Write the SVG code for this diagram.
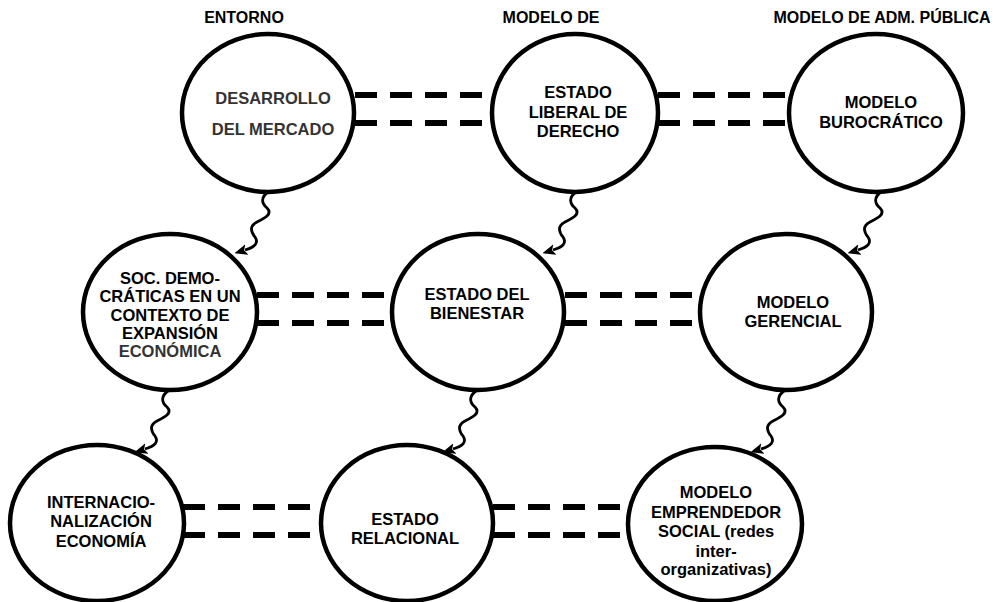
<svg xmlns="http://www.w3.org/2000/svg" width="1001" height="602" viewBox="0 0 1001 602">
<style>
.n{fill:#fff;stroke:#000;stroke-width:4.5}
.t{font-family:"Liberation Sans",Arial,sans-serif;font-weight:bold;font-size:16.5px;text-anchor:middle;fill:#000}
.g{fill:#333}
.h{font-family:"Liberation Sans",Arial,sans-serif;font-weight:bold;font-size:16px;text-anchor:middle;fill:#000}
.d{stroke:#000;stroke-width:6;stroke-dasharray:22 13;fill:none}
.w{stroke:#000;stroke-width:2.8;fill:none;marker-end:url(#ah)}
</style>
<defs>
<marker id="ah" viewBox="0 0 13 11" refX="2" refY="5.5" markerWidth="13" markerHeight="11" markerUnits="userSpaceOnUse" orient="auto">
<path d="M0,0 L13,5.5 L0,11 L3,5.5 z" fill="#000"/>
</marker>
<path id="wave" d="M0,0 c -7,5 -7,11 -1,16 c 6,6 -2,10 -10,14 c -8,4 -6,10 -2,15 c 4,6 0,10 -10,13"/>
</defs>
<g id="headers">
<text class="h" x="244" y="23">ENTORNO</text>
<text class="h" x="551" y="23">MODELO DE</text>
<text class="h" x="882" y="23">MODELO DE ADM. PÚBLICA</text>
</g>
<g id="connectors">
<line class="d" x1="355" y1="95" x2="493" y2="95"/>
<line class="d" x1="355" y1="123" x2="493" y2="123"/>
<line class="d" x1="658" y1="95" x2="788" y2="95"/>
<line class="d" x1="658" y1="123" x2="788" y2="123"/>
<line class="d" x1="257" y1="295" x2="392" y2="295"/>
<line class="d" x1="257" y1="323" x2="392" y2="323"/>
<line class="d" x1="565" y1="295" x2="700" y2="295"/>
<line class="d" x1="565" y1="323" x2="700" y2="323"/>
<line class="d" x1="183" y1="507" x2="320" y2="507"/>
<line class="d" x1="183" y1="535" x2="320" y2="535"/>
<line class="d" x1="493" y1="507" x2="628" y2="507"/>
<line class="d" x1="493" y1="535" x2="628" y2="535"/>
<use href="#wave" class="w" x="268" y="192"/>
<use href="#wave" class="w" x="576" y="192"/>
<use href="#wave" class="w" x="881" y="192"/>
<use href="#wave" class="w" x="168" y="391"/>
<use href="#wave" class="w" x="476" y="391"/>
<use href="#wave" class="w" x="784" y="391"/>
</g>
<g id="n1">
<ellipse class="n" cx="268" cy="113" rx="86" ry="79"/>
<text class="t g" x="273" y="104">DESARROLLO</text>
<text class="t g" x="273" y="135">DEL MERCADO</text>
</g>
<g id="n2">
<ellipse class="n" cx="575" cy="113" rx="83" ry="79"/>
<text class="t" x="578" y="98">ESTADO</text>
<text class="t" x="578" y="118">LIBERAL DE</text>
<text class="t" x="578" y="137">DERECHO</text>
</g>
<g id="n3">
<ellipse class="n" cx="876" cy="113" rx="87" ry="79"/>
<text class="t" x="881" y="108">MODELO</text>
<text class="t" x="881" y="128">BUROCRÁTICO</text>
</g>
<g id="n4">
<ellipse class="n" cx="170" cy="312" rx="87" ry="78"/>
<text class="t" x="170" y="284">SOC. DEMO-</text>
<text class="t" x="170" y="302">CRÁTICAS EN UN</text>
<text class="t" x="170" y="321">CONTEXTO DE</text>
<text class="t" x="170" y="339">EXPANSIÓN</text>
<text class="t g" x="170" y="357">ECONÓMICA</text>
</g>
<g id="n5">
<ellipse class="n" cx="478" cy="312" rx="86" ry="78"/>
<text class="t" x="477" y="300">ESTADO DEL</text>
<text class="t" x="477" y="319">BIENESTAR</text>
</g>
<g id="n6">
<ellipse class="n" cx="786" cy="312" rx="86" ry="78"/>
<text class="t" x="793" y="308">MODELO</text>
<text class="t" x="793" y="327">GERENCIAL</text>
</g>
<g id="n7">
<ellipse class="n" cx="97" cy="523" rx="87" ry="78"/>
<text class="t" x="101" y="508">INTERNACIO-</text>
<text class="t" x="101" y="527">NALIZACIÓN</text>
<text class="t" x="101" y="547">ECONOMÍA</text>
</g>
<g id="n8">
<ellipse class="n" cx="407" cy="523" rx="86" ry="78"/>
<text class="t" x="405" y="525">ESTADO</text>
<text class="t" x="405" y="544">RELACIONAL</text>
</g>
<g id="n9">
<ellipse class="n" cx="715" cy="524" rx="87" ry="77"/>
<text class="t" x="716" y="498">MODELO</text>
<text class="t" x="716" y="518">EMPRENDEDOR</text>
<text class="t" x="716" y="537">SOCIAL (redes</text>
<text class="t" x="716" y="557">inter-</text>
<text class="t" x="716" y="575">organizativas)</text>
</g>
</svg>
